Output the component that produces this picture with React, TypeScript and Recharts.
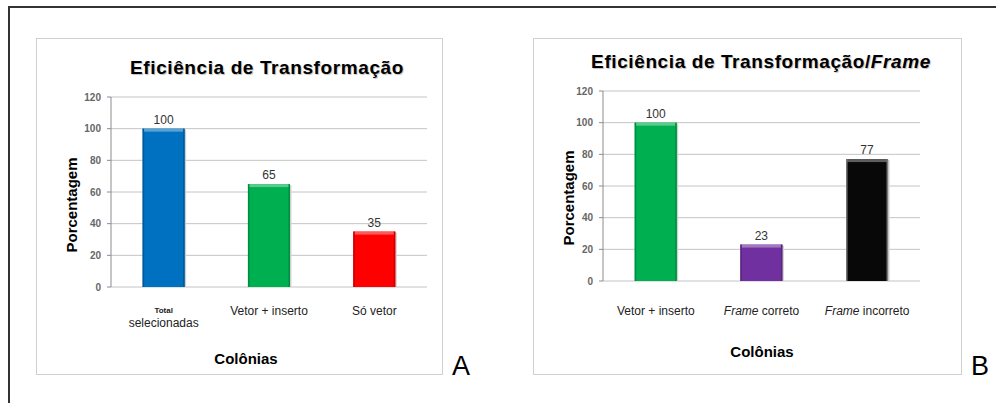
import { BarChart, Bar, XAxis, YAxis, CartesianGrid, LabelList, Cell } from 'recharts'

const FONT = '"Liberation Sans", Arial, sans-serif'

// painel A
const categoriesA = ['Total selecionadas', 'Vetor + inserto', 'Só vetor']
const valuesA = [100, 65, 35]
const colorsA = ['#0070C0', '#00B050', '#FF0000']

// painel B
const categoriesB = ['Vetor + inserto', 'Frame correto', 'Frame incorreto']
const valuesB = [100, 23, 77]
const colorsB = ['#00B050', '#7030A0', '#080808']

const yTicks = [0, 20, 40, 60, 80, 100, 120]
const edgeTicks = [0, 1, 2, 3]

const build = (cats: string[], vals: number[], cols: string[]) =>
  cats.map((name, i) => ({ name, value: vals[i], color: cols[i] }))

function shade(hex: string, amt: number) {
  const n = parseInt(hex.slice(1), 16)
  const f = (c: number) => Math.round(amt >= 0 ? c + (255 - c) * amt : c * (1 + amt))
  return `rgb(${f((n >> 16) & 255)},${f((n >> 8) & 255)},${f(n & 255)})`
}

const BevelBar = (props: any) => {
  const { x, y, width, height } = props
  const fill: string = props.payload?.color ?? props.fill
  if (!height || height <= 0) return null
  return (
    <g>
      <rect x={x + 1.5} y={y + 1} width={width} height={height - 1} fill="#cfcfcf" />
      <rect x={x} y={y} width={width} height={height} fill={fill} />
      <rect x={x} y={y} width={width} height={3} fill={shade(fill, 0.35)} />
      <rect x={x} y={y} width={1.5} height={height} fill={shade(fill, fill === '#080808' ? 0.45 : -0.2)} />
      <rect x={x + width - 1.5} y={y} width={1.5} height={height} fill={shade(fill, fill === '#080808' ? 0.45 : -0.2)} />
    </g>
  )
}

const makeTick = (dy: number) => (props: any) => {
  const { x, y, payload } = props
  const label: string = payload.value
  const common = { textAnchor: 'middle' as const, fill: '#222', fontFamily: FONT }
  if (label.startsWith('Total ')) {
    return (
      <g>
        <text x={x} y={y + dy - 2} fontSize={8} fontWeight="bold" {...common}>
          Total
        </text>
        <text x={x} y={y + dy + 12} fontSize={12} {...common}>
          {label.slice(6)}
        </text>
      </g>
    )
  }
  if (label.startsWith('Frame ')) {
    return (
      <text x={x} y={y + dy} fontSize={12} {...common}>
        <tspan fontStyle="italic">Frame</tspan>
        {' ' + label.slice(6)}
      </text>
    )
  }
  return (
    <text x={x} y={y + dy} fontSize={12} {...common}>
      {label}
    </text>
  )
}

interface PanelProps {
  data: { name: string; value: number; color: string }[]
  left: number
  top: number
  width: number
  height: number
  margin: { top: number; right: number; left: number; bottom: number }
  tickDy: number
}

function Panel({ data, left, top, width, height, margin, tickDy }: PanelProps) {
  return (
    <div style={{ position: 'absolute', left, top }}>
      <BarChart width={width} height={height} data={data} margin={margin} barCategoryGap="30%">
        <CartesianGrid xAxisId="cat" vertical={false} stroke="#c4c4c4" />
        <XAxis
          xAxisId="edge"
          type="number"
          domain={[0, 3]}
          ticks={edgeTicks}
          tick={false}
          tickSize={4}
          height={0}
          stroke="#8c8c8c"
        />
        <XAxis
          xAxisId="cat"
          dataKey="name"
          axisLine={false}
          tickLine={false}
          tickSize={0}
          tickMargin={0}
          interval={0}
          height={40}
          tick={makeTick(tickDy)}
        />
        <YAxis
          domain={[0, 120]}
          ticks={yTicks}
          width={40}
          tickSize={4}
          tickMargin={6}
          stroke="#8c8c8c"
          tick={{ fontSize: 10, fill: '#666', fontWeight: 'bold', fontFamily: FONT }}
        />
        <Bar xAxisId="cat" dataKey="value" shape={BevelBar} isAnimationActive={false}>
          {data.map((d) => (
            <Cell key={d.name} fill={d.color} />
          ))}
          <LabelList dataKey="value" position="top" offset={5} fill="#333" fontSize={12} fontFamily={FONT} />
        </Bar>
      </BarChart>
    </div>
  )
}

export default function App() {
  const dataA = build(categoriesA, valuesA, colorsA)
  const dataB = build(categoriesB, valuesB, colorsB)
  const bold = { fontFamily: FONT, fontWeight: 'bold' as const, fill: '#000' }
  return (
    <div style={{ position: 'fixed', left: 0, top: 0, width: 996, height: 403, background: '#fff', overflow: 'hidden' }}>
      <Panel
        data={dataA}
        left={36}
        top={38}
        width={406}
        height={336}
        margin={{ top: 59, right: 15, left: 35, bottom: 47 }}
        tickDy={28}
      />
      <Panel
        data={dataB}
        left={533}
        top={38}
        width={428}
        height={336}
        margin={{ top: 53, right: 41, left: 30, bottom: 53 }}
        tickDy={34}
      />
      <svg width={996} height={403} style={{ position: 'absolute', left: 0, top: 0, pointerEvents: 'none' }}>
        <rect x={9} y={7} width={1200} height={600} fill="none" stroke="#333" strokeWidth={2} />
        <rect x={36.5} y={38.5} width={406} height={336} fill="none" stroke="#d0d0d0" />
        <rect x={533.5} y={38.5} width={428} height={336} fill="none" stroke="#d0d0d0" />

        <text x={267} y={74} textAnchor="middle" fontSize={19} letterSpacing={0.6} {...bold} style={{ textShadow: '1px 1px 1px rgba(0,0,0,0.25)' }}>
          Eficiência de Transformação
        </text>
        <text x={761} y={68} textAnchor="middle" fontSize={19} letterSpacing={0.6} {...bold} style={{ textShadow: '1px 1px 1px rgba(0,0,0,0.25)' }}>
          Eficiência de Transformação/<tspan fontStyle="italic">Frame</tspan>
        </text>

        <text x={71} y={205} transform="rotate(-90, 71, 205)" textAnchor="middle" dominantBaseline="central" fontSize={15} {...bold}>
          Porcentagem
        </text>
        <text x={568} y={198} transform="rotate(-90, 568, 198)" textAnchor="middle" dominantBaseline="central" fontSize={15} {...bold}>
          Porcentagem
        </text>

        <text x={246} y={364} textAnchor="middle" fontSize={15} {...bold}>
          Colônias
        </text>
        <text x={762} y={357} textAnchor="middle" fontSize={15} {...bold}>
          Colônias
        </text>

        <text x={452} y={375} fontSize={27} fontFamily={FONT} fill="#000">
          A
        </text>
        <text x={971} y={375} fontSize={27} fontFamily={FONT} fill="#000">
          B
        </text>
      </svg>
    </div>
  )
}
